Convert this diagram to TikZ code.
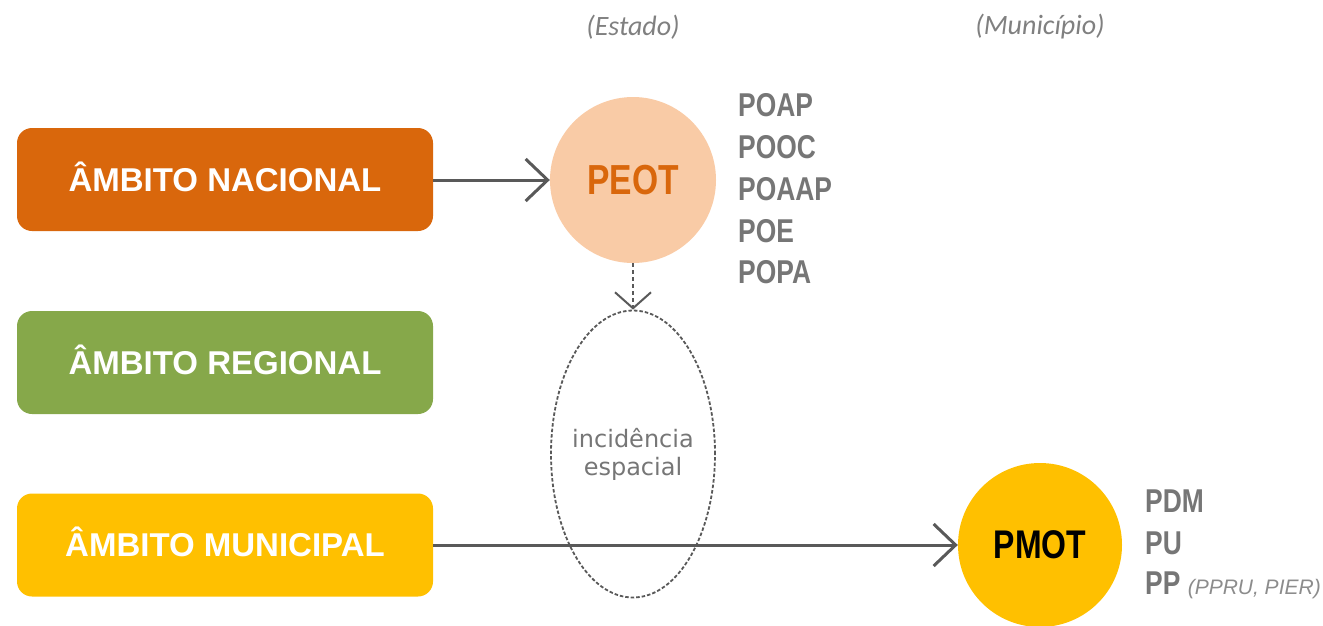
\documentclass[tikz,border=0pt]{standalone}
\usepackage{fontspec}
\setmainfont{Liberation Sans}
\newfontfamily\narrowfont{Liberation Sans}[FakeStretch=0.8]
\newfontfamily\calfont{Carlito}
\newfontfamily\dejafont{DejaVu Sans}
\usetikzlibrary{arrows.meta,shapes.geometric}
\definecolor{natorange}{RGB}{217,103,12}
\definecolor{peotfill}{RGB}{249,203,166}
\definecolor{reggreen}{RGB}{134,168,74}
\definecolor{munyellow}{RGB}{255,192,0}
\definecolor{txtgray}{RGB}{118,118,118}
\definecolor{arrgray}{RGB}{89,89,89}
\definecolor{lblgray}{RGB}{128,128,128}
\definecolor{subgray}{RGB}{140,140,140}
\tikzset{
  ambox/.style={rounded corners=15pt, minimum width=416pt, minimum height=103pt, inner sep=0pt,
    text height=23pt, text depth=0pt,
    text=white, font=\fontsize{33}{36}\selectfont\bfseries},
  plancirc/.style={circle, minimum size=166pt, inner sep=0pt},
  listitem/.style={anchor=west, inner sep=0pt, text=txtgray, font=\narrowfont\fontsize{33}{36}\selectfont\bfseries},
  toplabel/.style={inner sep=0pt, text=lblgray, font=\calfont\fontsize{28}{30}\selectfont\itshape},
  mainarrow/.style={draw=arrgray, line width=3pt, -{Straight Barb[length=22pt,width=42pt,line width=3pt]}},
  dotarrow/.style={draw=arrgray, line width=2pt, dash pattern=on 4pt off 3pt, -{Straight Barb[length=16pt,width=36pt,line width=2pt]}},
}
\begin{document}
\begin{tikzpicture}[x=1pt,y=-1pt]
\useasboundingbox (0,0) rectangle (1323,625);
% boxes
\node[ambox, fill=natorange] (nac) at (225,179.5) {ÂMBITO NACIONAL};
\node[ambox, fill=reggreen] (reg) at (225,362.5) {ÂMBITO REGIONAL};
\node[ambox, fill=munyellow] (mun) at (225,545) {ÂMBITO MUNICIPAL};
% circles
\node[plancirc, fill=peotfill, text=natorange, font=\narrowfont\fontsize{42}{44}\selectfont\bfseries] (peot) at (633,180) {PEOT};
\node[plancirc, fill=munyellow, text=black, font=\narrowfont\fontsize{40}{42}\selectfont\bfseries, minimum size=164pt] (pmot) at (1040,545) {PMOT};
% ellipse
\node[ellipse, draw=arrgray, line width=1.8pt, dash pattern=on 3.5pt off 2pt, minimum width=164pt, minimum height=287pt, inner sep=0pt] (inc) at (633,454) {};
\node[align=center, inner sep=0pt, text=txtgray, font=\dejafont\fontsize{24}{28}\selectfont] (inctxt) at (inc.center) {incidência\\espacial};
% top labels
\node[toplabel] (est) at (633,27) {(Estado)};
\node[toplabel] (mnc) at (1040,27) {(Município)};
% lists
\node[listitem] (l1) at (738,105) {POAP};
\node[listitem] (l2) at (738,147) {POOC};
\node[listitem] (l3) at (738,189) {POAAP};
\node[listitem] (l4) at (738,231) {POE};
\node[listitem] (l5) at (738,272) {POPA};
\node[listitem] (m1) at (1145,501) {PDM};
\node[listitem] (m2) at (1145,543) {PU};
\node[listitem] (m3) at (1145,585) {PP \normalfont\color{subgray}\itshape\fontsize{21}{24}\selectfont(PPRU, PIER)};
% arrows
\draw[mainarrow] (nac.east |- peot.west) -- (peot.west);
\draw[mainarrow] (mun.east) -- (pmot.west);
\draw[dotarrow] (peot.south) -- (inc.north);
\end{tikzpicture}
\end{document}
